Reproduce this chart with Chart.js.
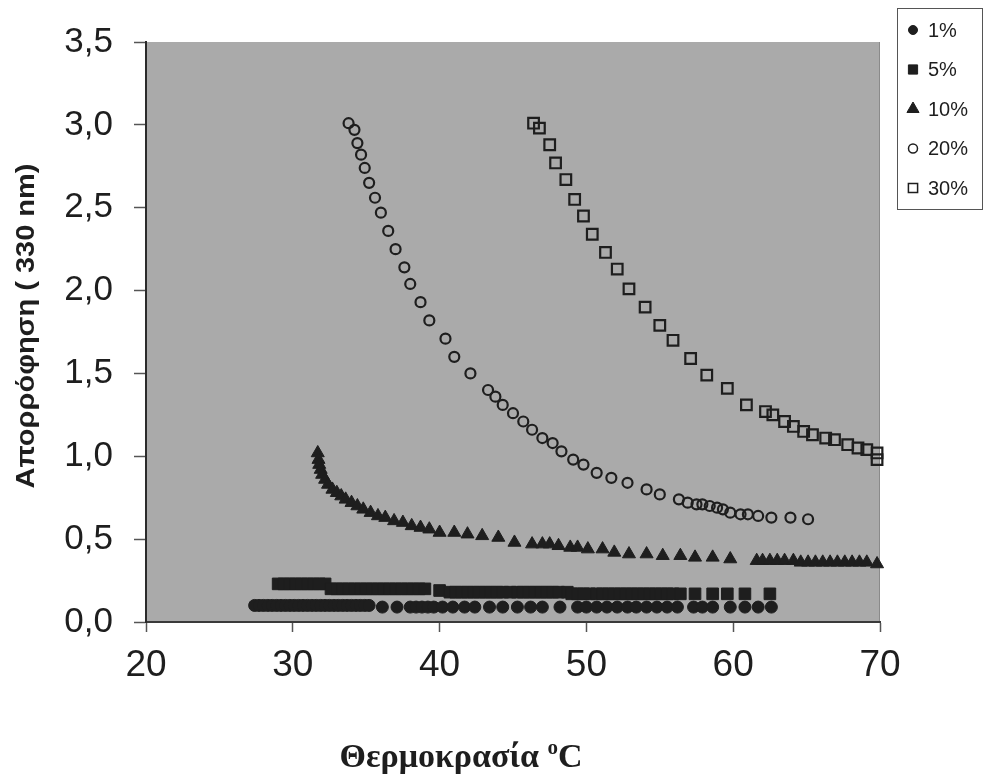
<!DOCTYPE html>
<html>
<head>
<meta charset="utf-8">
<script src="https://cdn.jsdelivr.net/npm/chart.js@4/dist/chart.umd.min.js"></script>
<style>
    html, body { margin: 0; padding: 0; background: #fff; }
    #wrap { position: relative; width: 986px; height: 780px; }
</style>
</head>
<body>
<div id="wrap"><canvas id="absChart"></canvas></div>
<script>
// Δεδομένα (θερμοκρασία °C / απορρόφηση 330 nm)
const seriesLabels = ['1%', '5%', '10%', '20%', '30%'];
const xTicks = [20, 30, 40, 50, 60, 70];
const yTicks = [0, 0.5, 1.0, 1.5, 2.0, 2.5, 3.0, 3.5];

const temp1 = [27.4, 27.7, 28.0, 28.3, 28.6, 28.9, 29.2, 29.5, 29.8, 30.1, 30.4, 30.7, 31.0, 31.3, 31.6, 31.9, 32.2, 32.5, 32.8, 33.1, 33.4, 33.7, 34.0, 34.3, 34.6, 34.9, 35.2,
    36.1, 37.1, 38.0, 38.4, 38.8, 39.2, 39.6, 40.2, 40.9, 41.7, 42.4, 43.4, 44.3, 45.3, 46.2, 47.0, 48.2, 49.4, 50.0, 50.7, 51.4, 52.1, 52.8, 53.4, 54.1, 54.8, 55.5, 56.2, 57.3, 57.9, 58.6, 59.8, 60.8, 61.7, 62.6];
const abs1 = [0.10, 0.10, 0.10, 0.10, 0.10, 0.10, 0.10, 0.10, 0.10, 0.10, 0.10, 0.10, 0.10, 0.10, 0.10, 0.10, 0.10, 0.10, 0.10, 0.10, 0.10, 0.10, 0.10, 0.10, 0.10, 0.10, 0.10,
    0.09, 0.09, 0.09, 0.09, 0.09, 0.09, 0.09, 0.09, 0.09, 0.09, 0.09, 0.09, 0.09, 0.09, 0.09, 0.09, 0.09, 0.09, 0.09, 0.09, 0.09, 0.09, 0.09, 0.09, 0.09, 0.09, 0.09, 0.09, 0.09, 0.09, 0.09, 0.09, 0.09, 0.09, 0.09];

const temp5 = [29.0, 29.4, 29.8, 30.2, 30.6, 31.0, 31.4, 31.8, 32.2,
    32.6, 33.0, 33.4, 33.8, 34.2, 34.6, 35.0, 35.4, 35.8, 36.2, 36.6, 37.0, 37.4, 37.8, 38.2, 38.6, 39.0,
    40.0, 40.7, 41.1, 41.5, 41.9, 42.3, 42.7, 43.1, 43.5, 43.9, 44.3, 44.8, 45.3, 45.7, 46.1, 46.5, 46.9, 47.3, 47.7, 48.1, 48.7,
    49.0, 49.4, 49.8, 50.2, 50.7, 51.1, 51.5, 51.9, 52.3, 52.7, 53.1, 53.5, 53.9, 54.3, 54.7, 55.1, 55.5, 55.9,
    56.4, 57.4, 58.6, 59.6, 60.8, 62.5];
const abs5 = [0.23, 0.23, 0.23, 0.23, 0.23, 0.23, 0.23, 0.23, 0.23,
    0.20, 0.20, 0.20, 0.20, 0.20, 0.20, 0.20, 0.20, 0.20, 0.20, 0.20, 0.20, 0.20, 0.20, 0.20, 0.20, 0.20,
    0.19, 0.18, 0.18, 0.18, 0.18, 0.18, 0.18, 0.18, 0.18, 0.18, 0.18, 0.18, 0.18, 0.18, 0.18, 0.18, 0.18, 0.18, 0.18, 0.18, 0.18,
    0.17, 0.17, 0.17, 0.17, 0.17, 0.17, 0.17, 0.17, 0.17, 0.17, 0.17, 0.17, 0.17, 0.17, 0.17, 0.17, 0.17, 0.17,
    0.17, 0.17, 0.17, 0.17, 0.17, 0.17];

const temp10 = [31.7, 31.75, 31.8, 31.9, 32.0, 32.2, 32.4, 32.7, 33.0, 33.3, 33.6, 34.0, 34.4, 34.8, 35.3, 35.8, 36.3, 36.9, 37.5, 38.1,
    38.7, 39.3, 40.0, 41.0, 41.9, 42.9, 44.0, 45.1, 46.3, 47.0, 47.5, 48.1, 48.9, 49.4, 50.1, 51.1, 51.9, 52.9, 54.1, 55.2,
    56.4, 57.4, 58.6, 59.8, 61.6, 62.0, 62.5, 63.0, 63.5, 64.1, 64.6, 65.1, 65.6, 66.1, 66.6, 67.1, 67.6, 68.1, 68.6, 69.1, 69.8];
const abs10 = [1.02, 0.98, 0.95, 0.92, 0.89, 0.86, 0.83, 0.80, 0.78, 0.76, 0.74, 0.72, 0.70, 0.68, 0.66, 0.64, 0.63, 0.61, 0.60, 0.58,
    0.57, 0.56, 0.54, 0.54, 0.53, 0.52, 0.51, 0.48, 0.47, 0.47, 0.47, 0.46, 0.45, 0.45, 0.44, 0.44, 0.42, 0.41, 0.41, 0.40,
    0.40, 0.39, 0.39, 0.38, 0.37, 0.37, 0.37, 0.37, 0.37, 0.37, 0.36, 0.36, 0.36, 0.36, 0.36, 0.36, 0.36, 0.36, 0.36, 0.36, 0.35];

const temp20 = [33.8, 34.2, 34.4, 34.65, 34.9, 35.2, 35.6, 36.0, 36.5, 37.0, 37.6, 38.0, 38.7, 39.3, 40.4, 41.0, 42.1, 43.3, 43.8, 44.3,
    45.0, 45.7, 46.3, 47.0, 47.7, 48.3, 49.1, 49.8, 50.7, 51.7, 52.8, 54.1, 55.0, 56.3, 56.9, 57.5, 57.9, 58.4, 58.9, 59.3,
    59.8, 60.5, 61.0, 61.7, 62.6, 63.9, 65.1];
const abs20 = [3.01, 2.97, 2.89, 2.82, 2.74, 2.65, 2.56, 2.47, 2.36, 2.25, 2.14, 2.04, 1.93, 1.82, 1.71, 1.60, 1.50, 1.40, 1.36, 1.31,
    1.26, 1.21, 1.16, 1.11, 1.08, 1.03, 0.98, 0.95, 0.90, 0.87, 0.84, 0.80, 0.77, 0.74, 0.72, 0.71, 0.71, 0.70, 0.69, 0.68,
    0.66, 0.65, 0.65, 0.64, 0.63, 0.63, 0.62];

const temp30 = [46.4, 46.8, 47.5, 47.9, 48.6, 49.2, 49.8, 50.4, 51.3, 52.1, 52.9, 54.0, 55.0, 55.9, 57.1, 58.2, 59.6, 60.9, 62.2, 62.7,
    63.5, 64.1, 64.8, 65.4, 66.3, 66.9, 67.8, 68.5, 69.1, 69.8, 69.8];
const abs30 = [3.01, 2.98, 2.88, 2.77, 2.67, 2.55, 2.45, 2.34, 2.23, 2.13, 2.01, 1.90, 1.79, 1.70, 1.59, 1.49, 1.41, 1.31, 1.27, 1.25,
    1.21, 1.18, 1.15, 1.13, 1.11, 1.10, 1.07, 1.05, 1.04, 1.02, 0.98];

const INK = '#1e1e1e';

function toPoints(xs, ys) {
    return xs.map((x, i) => ({ x: x, y: ys[i] }));
}

// Γκρι φόντο περιοχής σχεδίασης
const plotBackground = {
    id: 'plotBackground',
    beforeDraw(chart) {
        const { ctx, chartArea: a } = chart;
        ctx.save();
        ctx.fillStyle = '#aaaaaa';
        ctx.fillRect(a.left, a.top, a.right - a.left, a.bottom - a.top);
        ctx.strokeStyle = '#8a8a8a';
        ctx.lineWidth = 1;
        ctx.beginPath();
        ctx.moveTo(a.right - 0.5, a.top);
        ctx.lineTo(a.right - 0.5, a.bottom);
        ctx.stroke();
        ctx.restore();
    }
};

// Τίτλοι αξόνων
const axisTitles = {
    id: 'axisTitles',
    afterDraw(chart) {
        const ctx = chart.ctx;
        ctx.save();
        ctx.fillStyle = INK;

        // άξονας y (στενά γράμματα όπως στο πρωτότυπο)
        ctx.translate(27, 326);
        ctx.rotate(-Math.PI / 2);
        ctx.font = 'bold 25px "Liberation Sans", Arial, sans-serif';
        ctx.textAlign = 'center';
        ctx.textBaseline = 'middle';
        const yTitle = 'Απορρόφηση ( 330 nm)';
        const sx = 325 / ctx.measureText(yTitle).width;
        ctx.scale(sx, 1);
        ctx.fillText(yTitle, 0, 0);
        ctx.setTransform(1, 0, 0, 1, 0, 0);

        // άξονας x, με εκθέτη "o"
        const big = 'bold 34px "Liberation Serif", "Times New Roman", serif';
        const small = 'bold 21px "Liberation Serif", "Times New Roman", serif';
        const part1 = 'Θερμοκρασία ';
        const part2 = 'o';
        const part3 = 'C';
        ctx.textAlign = 'left';
        ctx.textBaseline = 'alphabetic';
        ctx.font = big;
        const w1 = ctx.measureText(part1).width;
        const w3 = ctx.measureText(part3).width;
        ctx.font = small;
        const w2 = ctx.measureText(part2).width;
        let x = 461 - (w1 + w2 + w3) / 2;
        const base = 767;
        ctx.font = big;
        ctx.fillText(part1, x, base);
        x += w1;
        ctx.font = small;
        ctx.fillText(part2, x, base - 13);
        x += w2;
        ctx.font = big;
        ctx.fillText(part3, x, base);
        ctx.restore();
    }
};

// Υπόμνημα σε πλαίσιο δεξιά
const boxLegend = {
    id: 'boxLegend',
    afterDraw(chart) {
        const ctx = chart.ctx;
        const sizes = [4.5, 6.5, 7, 4.5, 6.5];
        ctx.save();
        ctx.fillStyle = '#fff';
        ctx.fillRect(897, 8, 86, 202);
        ctx.strokeStyle = '#555';
        ctx.lineWidth = 1;
        ctx.strokeRect(897.5, 8.5, 85, 201);
        ctx.font = '20px "Liberation Sans", Arial, sans-serif';
        ctx.textBaseline = 'middle';
        ctx.textAlign = 'left';
        chart.data.datasets.forEach((ds, i) => {
            const y = 30 + i * 39.5;
            ctx.fillStyle = ds.backgroundColor;
            ctx.strokeStyle = ds.borderColor;
            ctx.lineWidth = ds.backgroundColor === 'transparent' ? 1.5 : 1;
            Chart.helpers.drawPoint(ctx, {
                pointStyle: ds.pointStyle, radius: sizes[i], rotation: 0,
                borderWidth: ctx.lineWidth
            }, 913, y);
            ctx.fillStyle = INK;
            ctx.fillText(ds.label, 928, y + 1);
        });
        ctx.restore();
    }
};

function initChart() {
    const canvas = document.getElementById('absChart');
    const styles = [
        { pointStyle: 'circle', pointRadius: 6, backgroundColor: INK, borderColor: INK, pointBorderWidth: 1 },
        { pointStyle: 'rect', pointRadius: 8.2, backgroundColor: INK, borderColor: INK, pointBorderWidth: 1 },
        { pointStyle: 'triangle', pointRadius: 7.5, backgroundColor: INK, borderColor: INK, pointBorderWidth: 1 },
        { pointStyle: 'circle', pointRadius: 5, backgroundColor: 'transparent', borderColor: INK, pointBorderWidth: 2.2 },
        { pointStyle: 'rect', pointRadius: 7.5, backgroundColor: 'transparent', borderColor: INK, pointBorderWidth: 2.2 }
    ];
    const xs = [temp1, temp5, temp10, temp20, temp30];
    const ys = [abs1, abs5, abs10, abs20, abs30];

    const datasets = seriesLabels.map((label, i) => Object.assign({
        label: label,
        data: toPoints(xs[i], ys[i]),
        showLine: false,
        clip: false,
        pointHoverRadius: styles[i].pointRadius
    }, styles[i]));

    new Chart(canvas.getContext('2d'), {
        type: 'scatter',
        data: { datasets: datasets },
        options: {
            responsive: true,
            maintainAspectRatio: false,
            animation: false,
            layout: { padding: { top: 38, right: 106, left: 0, bottom: 0 } },
            plugins: {
                legend: { display: false },
                tooltip: { enabled: false },
                title: { display: false }
            },
            scales: {
                x: {
                    type: 'linear',
                    min: xTicks[0],
                    max: xTicks[xTicks.length - 1],
                    afterBuildTicks: s => { s.ticks = xTicks.map(v => ({ value: v })); },
                    afterFit: s => { s.height = 158; },
                    border: { display: true, color: '#3a3a3a', width: 2 },
                    grid: { drawOnChartArea: false, drawTicks: true, tickLength: 10, tickColor: '#555', tickWidth: 1.5 },
                    ticks: {
                        color: INK,
                        padding: 12,
                        font: { family: '"Liberation Sans", Arial, sans-serif', size: 37 },
                        callback: v => String(v)
                    }
                },
                y: {
                    min: yTicks[0],
                    max: yTicks[yTicks.length - 1],
                    afterBuildTicks: s => { s.ticks = yTicks.map(v => ({ value: v })); },
                    afterFit: s => { s.width = 146; },
                    border: { display: true, color: '#2a2a2a', width: 2 },
                    grid: { drawOnChartArea: false, drawTicks: true, tickLength: 12, tickColor: '#555', tickWidth: 1.5 },
                    ticks: {
                        color: INK,
                        padding: 21,
                        font: { family: '"Liberation Sans", Arial, sans-serif', size: 35 },
                        callback: v => v.toFixed(1).replace('.', ',')
                    }
                }
            }
        },
        plugins: [plotBackground, axisTitles, boxLegend]
    });
}

document.addEventListener('DOMContentLoaded', initChart);
</script>
</body>
</html>
